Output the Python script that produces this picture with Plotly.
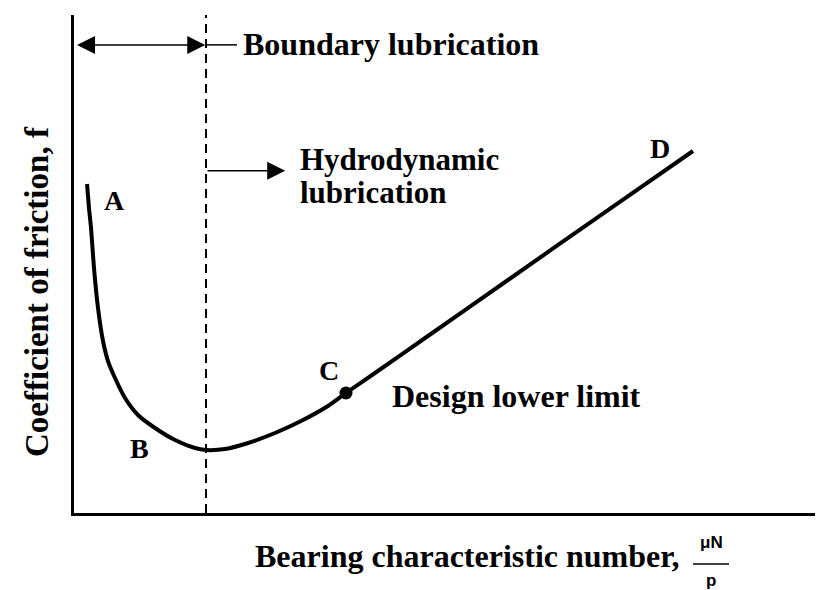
import plotly.graph_objects as go

# ---- data (arbitrary units: x 0-100, y 0-100) ----
curve_x = [1.72, 1.98, 2.25, 2.64, 3.17, 3.83, 4.49, 5.42, 6.74, 8.45, 10.70, 13.34, 15.98,
           17.44, 19.95, 23.01, 26.55, 29.99, 33.55, 35.93, 39.76, 46.76, 57.33, 70.54, 81.77]
curve_y = [66.06, 61.24, 57.23, 49.20, 41.16, 34.54, 30.52, 27.11, 23.09, 19.68, 17.07, 14.66, 13.05,
           12.65, 12.85, 14.06, 16.06, 18.47, 21.49, 24.10, 28.11, 35.54, 46.79, 60.84, 72.69]
point_c = (35.93, 24.10)
boundary_x = 17.44
hydro_arrow_end = 27.9
boundary_arrow_y = 94.0
hydro_arrow_y = 68.7

labels = ["A", "B", "C", "D"]
label_x = [5.4, 8.7, 33.7, 77.4]
label_y = [62.8, 13.0, 28.7, 73.1]

W, H = 823, 590
L, R, T, B = 66, 0, 7, 85
PW, PH = W - L - R, H - T - B

def pxx(x):
    return (x - L) / PW

def pxy(y):
    return (H - B - y) / PH

SERIF = "Liberation Serif, Times New Roman, serif"
SANS = "Liberation Sans, Arial, sans-serif"

fig = go.Figure()
fig.add_trace(go.Scatter(x=curve_x, y=curve_y, mode="lines",
                         line=dict(color="black", width=4, shape="spline", smoothing=0.6),
                         hoverinfo="skip", showlegend=False))
fig.add_trace(go.Scatter(x=[point_c[0]], y=[point_c[1]], mode="markers",
                         marker=dict(color="black", size=13), showlegend=False))

shapes = [
    dict(type="line", xref="x", yref="paper", x0=boundary_x, x1=boundary_x, y0=0, y1=1,
         line=dict(color="black", width=2, dash="9px,6px")),
    dict(type="line", xref="x", yref="y", x0=boundary_x, x1=boundary_x + 4.1,
         y0=boundary_arrow_y, y1=boundary_arrow_y, line=dict(color="black", width=1.5)),
]

ann = []
# boundary double arrow
ann.append(dict(x=boundary_x - 0.1, y=boundary_arrow_y, ax=0.2, ay=boundary_arrow_y,
                xref="x", yref="y", axref="x", ayref="y", text="", showarrow=True,
                arrowhead=2, startarrowhead=2, arrowside="end+start", arrowsize=2.4,
                startarrowsize=2.4, arrowwidth=1.5, arrowcolor="black", standoff=0, startstandoff=0))
# hydrodynamic arrow
ann.append(dict(x=hydro_arrow_end, y=hydro_arrow_y, ax=boundary_x, ay=hydro_arrow_y,
                xref="x", yref="y", axref="x", ayref="y", text="", showarrow=True,
                arrowhead=2, arrowsize=2.4, arrowwidth=1.5, arrowcolor="black", standoff=0))

def txt(t, x, y, size=32, xanchor="left", family=SERIF, **kw):
    d = dict(text=t, x=pxx(x), y=pxy(y), xref="paper", yref="paper", showarrow=False,
             xanchor=xanchor, yanchor="middle", font=dict(family=family, size=size, color="black"))
    d.update(kw)
    ann.append(d)

txt("<b>Boundary lubrication</b>", 233, 36)
txt("<b>Hydrodynamic</b>", 290, 151, size=31)
txt("<b>lubrication</b>", 290, 184, size=31)
txt("<b>Design lower limit</b>", 382, 388)

lab_font = dict(family=SERIF, size=28, color="black")
for t, x, y in zip(labels, label_x, label_y):
    ann.append(dict(text="<b>%s</b>" % t, x=x, y=y, xref="x", yref="y", showarrow=False,
                    xanchor="center", yanchor="middle", font=lab_font))

# axis titles
txt("<b>Coefficient of friction, f</b>", 29, 284, size=33, xanchor="center", textangle=-90)
txt("<b>Bearing characteristic number,</b>", 245, 548, size=32)
txt("<b>μN</b>", 703, 534, size=17, xanchor="center", family=SANS)
txt("<b>p</b>", 703, 572, size=17, xanchor="center", family=SANS)
shapes.append(dict(type="line", xref="paper", yref="paper", x0=pxx(685), x1=pxx(721),
                   y0=pxy(556), y1=pxy(556), line=dict(color="black", width=1.5)))

fig.update_layout(
    width=W, height=H, margin=dict(l=L, r=R, t=T, b=B),
    plot_bgcolor="white", paper_bgcolor="white",
    xaxis=dict(range=[0, 100], showgrid=False, zeroline=False, showticklabels=False,
               ticks="", showline=True, linecolor="black", linewidth=3),
    yaxis=dict(range=[0, 100], showgrid=False, zeroline=False, showticklabels=False,
               ticks="", showline=True, linecolor="black", linewidth=3),
    shapes=shapes, annotations=ann, showlegend=False,
)
fig.write_html("out.html")
